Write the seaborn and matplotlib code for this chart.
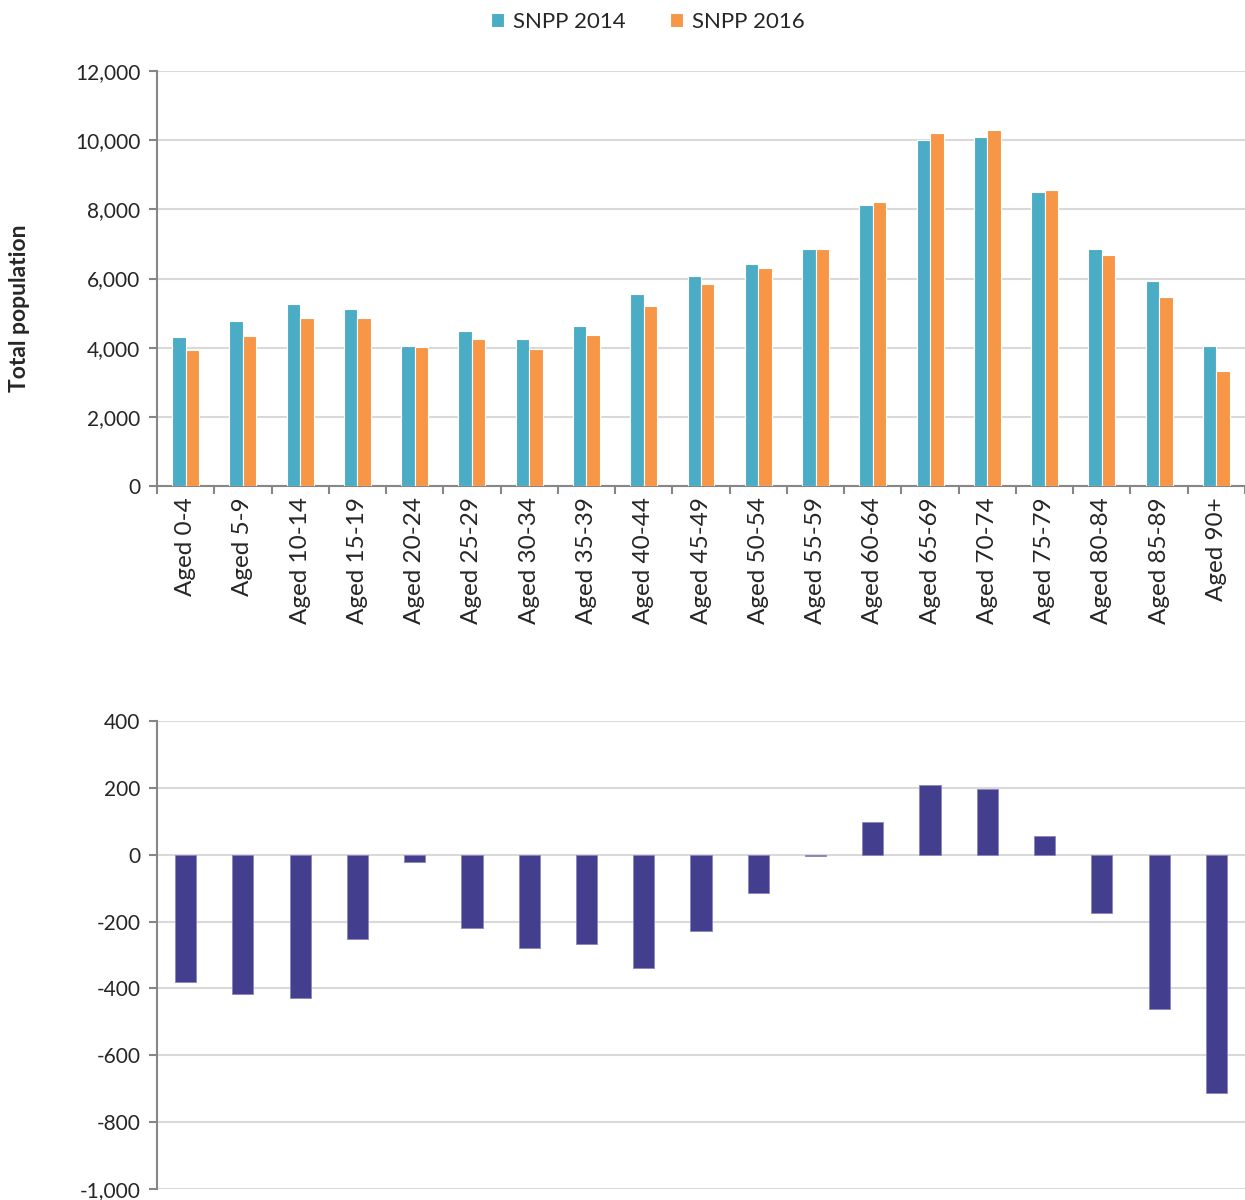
import matplotlib
matplotlib.use("Agg")
import matplotlib.pyplot as plt
import seaborn as sns
import pandas as pd
from matplotlib.ticker import FuncFormatter, FixedLocator, MultipleLocator

ages = ["Aged 0-4", "Aged 5-9", "Aged 10-14", "Aged 15-19", "Aged 20-24", "Aged 25-29",
        "Aged 30-34", "Aged 35-39", "Aged 40-44", "Aged 45-49", "Aged 50-54", "Aged 55-59",
        "Aged 60-64", "Aged 65-69", "Aged 70-74", "Aged 75-79", "Aged 80-84", "Aged 85-89",
        "Aged 90+"]
snpp2014 = [4300, 4770, 5270, 5110, 4060, 4470, 4240, 4640, 5545, 6065,
            6430, 6855, 8115, 10005, 10095, 8510, 6845, 5935, 4040]
snpp2016 = [3925, 4350, 4845, 4845, 4030, 4250, 3960, 4370, 5200, 5835,
            6315, 6850, 8205, 10210, 10290, 8565, 6670, 5470, 3330]
difference = [-380, -417, -429, -252, -23, -218, -278, -266, -338, -229,
              -114, -5, 97, 208, 196, 56, -173, -462, -713]
series_names = ["SNPP 2014", "SNPP 2016"]

BLUE = "#4BACC6"
ORANGE = "#F79646"
PURPLE = "#433E8D"
GRID = "#D9D9D9"
SPINE = "#868686"

sns.set_theme(style="white")
plt.rcParams['font.family'] = ['Lato', 'DejaVu Sans']

df = pd.DataFrame({
    "age": ages * 2,
    "value": snpp2014 + snpp2016,
    "series": [series_names[0]] * len(ages) + [series_names[1]] * len(ages),
})

fig = plt.figure(figsize=(12.45, 12), dpi=100)
ax1 = fig.add_axes([157/1245, 1 - 486/1200, 1 - 157/1245, 415/1200])
ax2 = fig.add_axes([157/1245, 1 - 1189/1200, 1 - 157/1245, 468/1200])

sns.barplot(data=df, x="age", y="value", hue="series", order=ages,
            hue_order=series_names, palette=[BLUE, ORANGE], width=0.47,
            saturation=1, edgecolor="white", linewidth=0.8, ax=ax1, zorder=3)
handles, labels = ax1.get_legend_handles_labels()
if ax1.get_legend() is not None:
    ax1.get_legend().remove()

ax1.set_xlim(-0.5, len(ages) - 0.5)
ax1.set_ylim(0, 12000)
ax1.yaxis.set_major_locator(MultipleLocator(2000))
ax1.yaxis.set_major_formatter(FuncFormatter(lambda v, p: f"{int(v):,}"))
ax1.grid(axis="y", color=GRID, linewidth=1.5, zorder=0)
ax1.set_axisbelow(True)
ax1.set_xlabel("")
ax1.set_ylabel("")
for s in ["top", "right"]:
    ax1.spines[s].set_visible(False)
for s in ["left", "bottom"]:
    ax1.spines[s].set_color(SPINE)
    ax1.spines[s].set_linewidth(1.5)
ax1.set_xticks(range(len(ages)))
ax1.set_xticklabels(ages, rotation=90, fontsize=17.5)
ax1.xaxis.set_minor_locator(FixedLocator([i - 0.5 for i in range(len(ages) + 1)]))
ax1.tick_params(axis="x", which="major", length=0, pad=8)
ax1.tick_params(axis="x", which="minor", length=6, width=1.5, color=SPINE, bottom=True)
ax1.tick_params(axis="y", which="major", length=6, width=1.5, color=SPINE, left=True,
                labelsize=15, pad=6)

fig.text(20/1245, 1 - 308/1200, "Total population", rotation=90, fontsize=16.5,
         fontweight="bold", ha="center", va="center")

fig.legend(handles, labels, loc="center", bbox_to_anchor=(648/1245, 1 - 22/1200),
           ncol=2, frameon=False, fontsize=16, handlelength=0.6, handleheight=0.6,
           handletextpad=0.4, columnspacing=2.0)

sns.barplot(x=ages, y=difference, order=ages, color=PURPLE, width=0.37,
            saturation=1, edgecolor="#8A86C0", linewidth=0.6, ax=ax2, zorder=3)
ax2.set_xlim(-0.5, len(ages) - 0.5)
ax2.set_ylim(-1000, 400)
ax2.yaxis.set_major_locator(MultipleLocator(200))
ax2.yaxis.set_major_formatter(FuncFormatter(lambda v, p: f"{int(v):,}"))
ax2.grid(axis="y", color=GRID, linewidth=1.5, zorder=0)
ax2.set_axisbelow(True)
ax2.set_xticks([])
for s in ["top", "right", "bottom"]:
    ax2.spines[s].set_visible(False)
ax2.spines["left"].set_color(SPINE)
ax2.spines["left"].set_linewidth(1.5)
ax2.tick_params(axis="y", which="major", length=6, width=1.5, color=SPINE, left=True,
                labelsize=15, pad=6)

fig.savefig("out.png", dpi=100)
